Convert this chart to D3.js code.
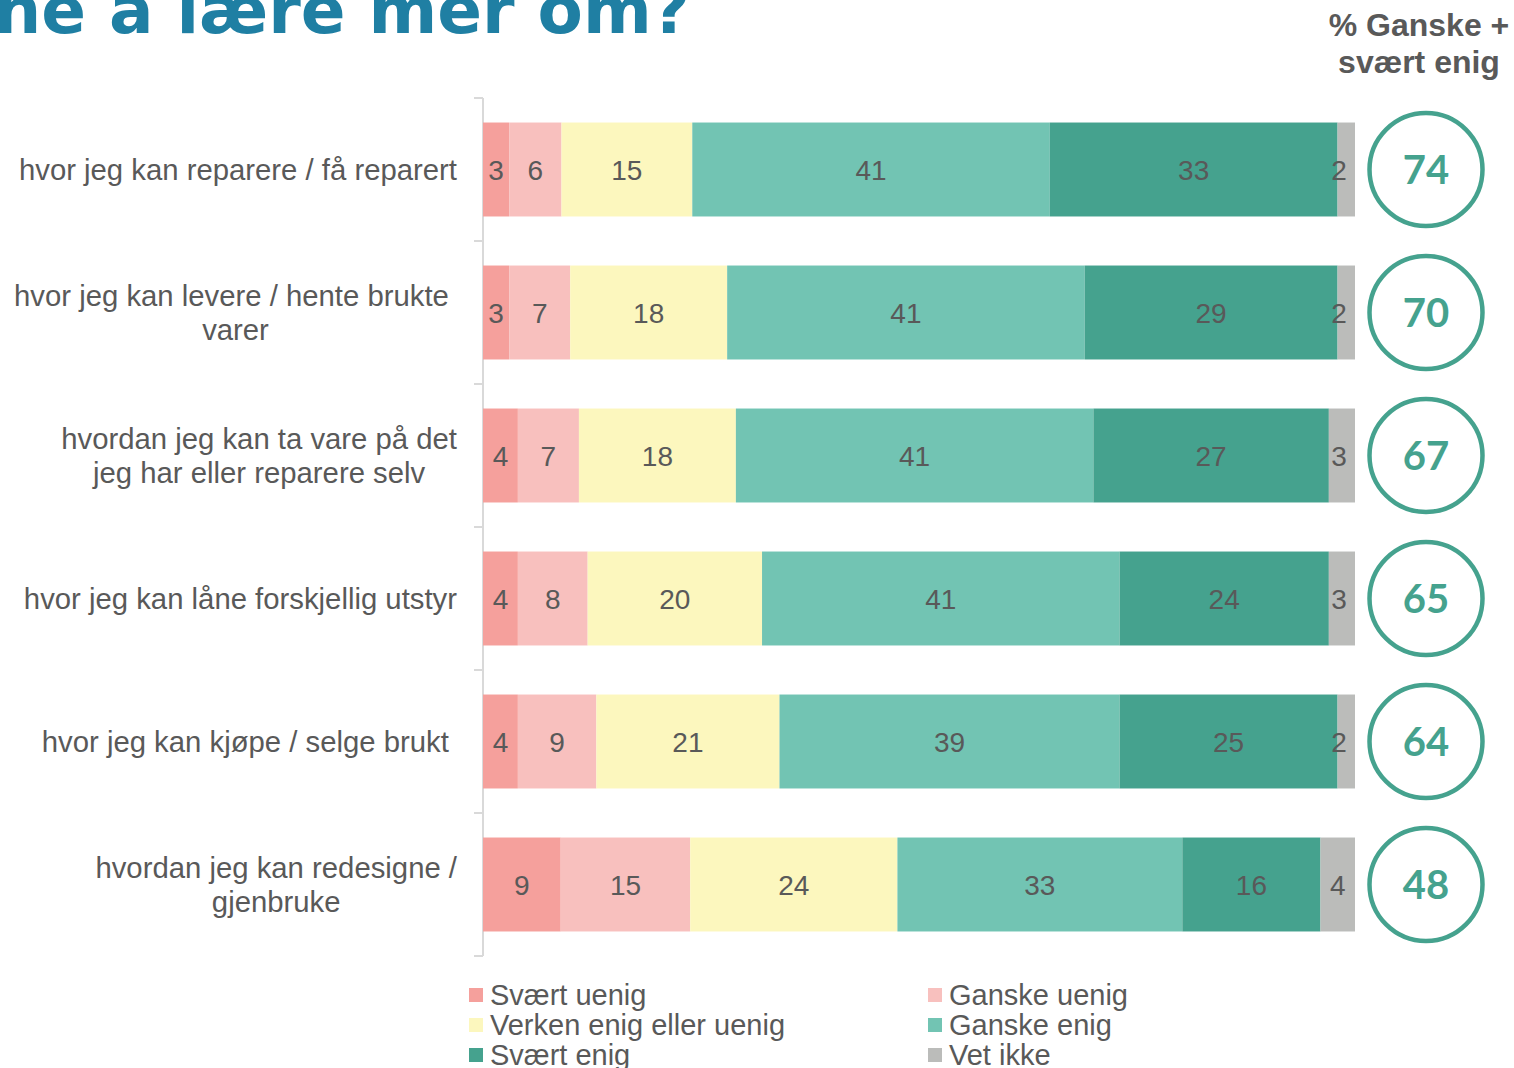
<!DOCTYPE html>
<html>
<head>
<meta charset="utf-8">
<script src="https://cdn.jsdelivr.net/npm/d3@7"></script>
<style>
  body { margin: 0; background: #fff; }
  text { font-family: "Liberation Sans", Arial, sans-serif; }
</style>
</head>
<body>
<div id="chart"></div>
<script>
// data
var categories = [
  "hvor jeg kan reparere / få reparert",
  "hvor jeg kan levere / hente brukte \nvarer",
  "hvordan jeg kan ta vare på det\njeg har eller reparere selv",
  "hvor jeg kan låne forskjellig utstyr",
  "hvor jeg kan kjøpe / selge brukt ",
  "hvordan jeg kan redesigne /\ngjenbruke"
];
var seriesNames = ["Svært uenig", "Ganske uenig", "Verken enig eller uenig", "Ganske enig", "Svært enig", "Vet ikke"];
var svaertUenig = [3, 3, 4, 4, 4, 9];
var ganskeUenig = [6, 7, 7, 8, 9, 15];
var verken      = [15, 18, 18, 20, 21, 24];
var ganskeEnig  = [41, 41, 41, 41, 39, 33];
var svaertEnig  = [33, 29, 27, 24, 25, 16];
var vetIkke     = [2, 2, 3, 3, 2, 4];
var enigTotal   = [74, 70, 67, 65, 64, 48];
var seriesColors = ["#f5a09c", "#f8c0be", "#fcf7be", "#72c4b3", "#45a28e", "#bbbcba"];

var title = "Hva vil du gjerne å lære mer om?";
var headerLines = ["% Ganske +", "svært enig"];

var width = 1514, height = 1068;
var grey = "#595959", teal = "#45a28e";

var seriesValues = [svaertUenig, ganskeUenig, verken, ganskeEnig, svaertEnig, vetIkke];
var rows = categories.map(function(c, i) {
  var r = { cat: c };
  seriesNames.forEach(function(s, j) { r[s] = seriesValues[j][i]; });
  return r;
});

var svg = d3.select("#chart").append("svg")
    .attr("width", width)
    .attr("height", height);

// title (cut off at top)
svg.append("text")
    .attr("x", 690)
    .attr("y", 33)
    .attr("text-anchor", "end")
    .style("font-family", "'DejaVu Sans', sans-serif")
    .style("font-weight", "bold")
    .style("font-size", "66px")
    .style("fill", "#1f7fa3")
    .text(title);

// header
svg.selectAll(".header").data(headerLines).enter().append("text")
    .attr("class", "header")
    .attr("x", 1419)
    .attr("y", function(d, i) { return 36 + i * 37; })
    .attr("text-anchor", "middle")
    .style("font-weight", "bold")
    .style("font-size", "32px")
    .style("fill", grey)
    .text(function(d) { return d; });

// scales
var x = d3.scaleLinear().domain([0, 1]).range([483, 1355]);
var y = d3.scaleBand().domain(categories).range([98, 956])
    .paddingInner(0.343).paddingOuter(0.1715);

var stack = d3.stack().keys(seriesNames).offset(d3.stackOffsetExpand);
var stacked = stack(rows);

// axis line with ticks between categories
var axisG = svg.append("g").attr("class", "axis");
axisG.append("line")
    .attr("x1", x(0)).attr("x2", x(0))
    .attr("y1", y.range()[0]).attr("y2", y.range()[1])
    .attr("stroke", "#d9d9d9").attr("stroke-width", 2);
axisG.selectAll(".tick").data(d3.range(categories.length + 1)).enter().append("line")
    .attr("class", "tick")
    .attr("x1", x(0) - 9).attr("x2", x(0))
    .attr("y1", function(i) { return y.range()[0] + i * y.step(); })
    .attr("y2", function(i) { return y.range()[0] + i * y.step(); })
    .attr("stroke", "#d9d9d9").attr("stroke-width", 2);

// bars
var layers = svg.selectAll(".layer").data(stacked).enter().append("g")
    .attr("class", "layer")
    .attr("fill", function(d, i) { return seriesColors[i]; });

layers.selectAll("rect").data(function(d) { return d; }).enter().append("rect")
    .attr("x", function(d) { return x(d[0]); })
    .attr("y", function(d) { return y(d.data.cat); })
    .attr("width", function(d) { return x(d[1]) - x(d[0]); })
    .attr("height", y.bandwidth());

// value labels
layers.selectAll(".val").data(function(d) {
    return d.map(function(v) { return { v: v, key: d.key }; });
  }).enter().append("text")
    .attr("class", "val")
    .attr("x", function(d) {
      var c = (x(d.v[0]) + x(d.v[1])) / 2;
      return Math.min(c, x(1) - 16);
    })
    .attr("y", function(d) { return y(d.v.data.cat) + y.bandwidth() / 2; })
    .attr("dy", "0.36em")
    .attr("text-anchor", "middle")
    .style("font-size", "28px")
    .style("fill", grey)
    .text(function(d) { return d.v.data[d.key]; });

// category labels
var labels = svg.selectAll(".cat").data(categories).enter().append("text")
    .attr("class", "cat")
    .style("font-size", "29.3px")
    .style("white-space", "pre")
    .style("fill", grey);
labels.each(function(c) {
  var t = d3.select(this);
  var lines = c.split("\n");
  var spans = t.selectAll("tspan").data(lines).enter().append("tspan")
      .attr("text-anchor", "middle")
      .attr("y", function(d, i) {
        return y(c) + y.bandwidth() / 2 + (i - (lines.length - 1) / 2) * 34;
      })
      .attr("dy", "0.36em")
      .text(function(d) { return d; });
  var maxW = 0;
  spans.each(function() { maxW = Math.max(maxW, this.getComputedTextLength()); });
  spans.attr("x", 457 - maxW / 2);
});

// circles
var circ = svg.selectAll(".circ").data(categories).enter().append("g")
    .attr("class", "circ")
    .attr("transform", function(c) { return "translate(1426," + (y(c) + y.bandwidth() / 2) + ")"; });
circ.append("circle")
    .attr("r", 56.5)
    .attr("fill", "none")
    .attr("stroke", teal)
    .attr("stroke-width", 4.5);
circ.append("text")
    .attr("text-anchor", "middle")
    .attr("dy", "0.36em")
    .style("font-family", "Lato, 'Open Sans', sans-serif")
    .style("font-weight", "bold")
    .style("font-size", "40px")
    .style("fill", teal)
    .text(function(c, i) { return enigTotal[i]; });

// legend
var legend = svg.selectAll(".legend-item").data(seriesNames).enter().append("g")
    .attr("class", "legend-item")
    .attr("transform", function(d, i) {
      return "translate(" + (469 + (i % 2) * 459) + "," + (988 + Math.floor(i / 2) * 30) + ")";
    });
legend.append("rect")
    .attr("width", 14)
    .attr("height", 14)
    .attr("fill", function(d, i) { return seriesColors[i]; });
legend.append("text")
    .attr("x", 21)
    .attr("y", 17)
    .style("font-size", "29px")
    .style("fill", grey)
    .text(function(d) { return d; });
</script>
</body>
</html>
